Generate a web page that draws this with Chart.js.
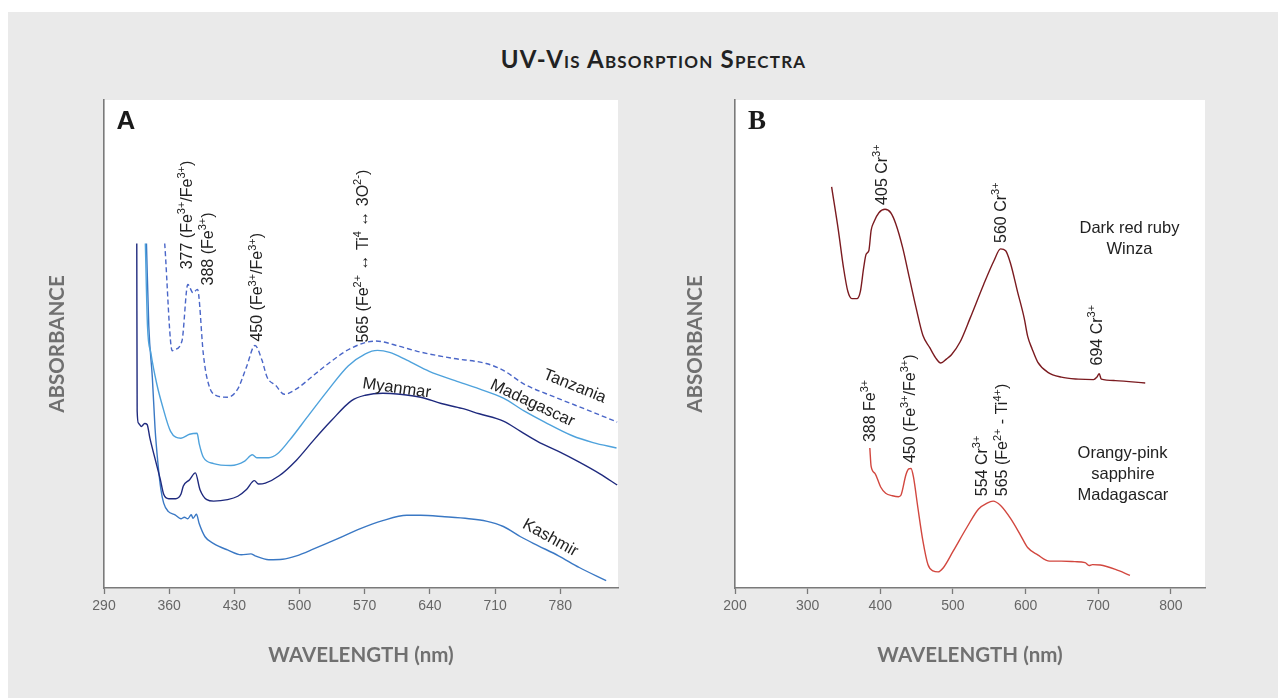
<!DOCTYPE html>
<html><head><meta charset="utf-8">
<script src="https://cdn.jsdelivr.net/npm/chart.js@4.4.1/dist/chart.umd.min.js"></script>
<style>
html,body{margin:0;padding:0;background:#fff;width:1278px;height:698px;overflow:hidden;position:relative}
#panel{position:absolute;left:8px;top:12px;width:1270px;height:686px;background:#eaeaea}
#title{position:absolute;left:0;width:1307px;top:44px;text-align:center;font:bold 24px Lato, sans-serif;font-variant:small-caps;letter-spacing:1.2px;color:#222}
.wrap{position:absolute;top:0;height:698px}
</style></head>
<body>
<div id="panel"></div>
<div id="title">UV-Vis Absorption Spectra</div>
<div class="wrap" style="left:0;width:640px"><canvas id="ca"></canvas></div>
<div class="wrap" style="left:640px;width:638px"><canvas id="cb"></canvas></div>
<script>
// ---------- DATA: panel A ----------
const ticksA = [290, 360, 430, 500, 570, 640, 710, 780];
const tanzaniaNm = [355.2,363.3,365.2,373.7,380,385.6,390.4,396.7,400.4,407.8,422.6,433.7,443,452.2,459.6,465.2,474.4,483.7,496.7,515.2,533.7,555.9,581.9,607.8,626.3,663.3,700.4,718.9,741.1,774.4,811.5,841.1];
const tanzaniaAbs = [70.6,48.6,48.8,50.6,62.2,60.5,61.2,47.9,43.2,39.7,39.1,40.8,45.3,49.7,46.7,43.2,41.5,39.7,40.8,43.6,46.4,49.2,50.6,49.5,48.5,47.1,46,44.6,41.8,39.1,36.3,34];
const madagascarNm = [334.4,336.7,340.4,346.7,352.2,361.5,372.6,381.9,390,392.2,396.7,407.8,426.3,441.1,449.3,454.1,467,476.3,489.3,507.8,530,552.2,570.7,583.7,596.7,615.2,639.3,667,693,718.9,741.1,763.3,793,815.2,840.4];
const madagascarAbs = [70.6,53.7,48.1,41.8,37.7,32.1,30.7,31.5,31.7,29.6,26.8,25.5,25.1,26,27.3,26.7,26.7,27.5,30.3,34.9,40.4,45.5,48,48.7,48.3,46.7,44.4,42.5,40.8,38.9,36.3,34,31.2,29.8,28.7];
const myanmarNm = [325.2,325.6,327,330,333.7,336.3,339.3,344.8,350.4,354.1,359.6,367,372.6,375.2,381.9,388.1,393,400.4,407.8,422.6,433.7,443,451.5,455.9,463.3,478.1,496.7,515.2,533.7,555.9,570.7,589.3,607.8,630,652.2,674.4,693,718.9,737.4,755.9,778.1,800.4,822.6,841.1];
const myanmarAbs = [70.6,36.3,33.8,33.1,33.7,33.5,30.7,26.5,22.3,19.2,18.3,18.3,19.2,20.9,22.2,23.6,20.2,18.1,17.8,18.1,18.8,20.2,22,21.3,21.5,23,26.2,30.3,34.2,38.4,39.5,39.9,39.7,39.1,37.8,36.8,35.7,34.2,32.1,30,28,25.8,23.4,21.1];
const kashmirNm = [335.6,338.1,341.9,344.8,347.8,351.1,354.1,358.9,366.3,372.6,376.3,380,383.7,385.6,389.3,392.2,398.5,407.8,422.6,437.4,447.8,452.2,467,481.9,496.7,515.2,541.1,563.3,589.3,615.2,630,655.9,681.9,700.4,718.9,737.4,755.9,778.1,800.4,829.3];
const kashmirAbs = [70.6,53.7,43.2,32.8,25.8,20.2,17.4,15.7,15,14.2,14.5,14.2,15,14.3,15.1,13.2,10.5,9.1,7.8,6.8,7,6.6,5.8,5.9,6.6,8,10.1,12,13.8,14.9,14.9,14.6,14.2,13.7,12.6,10.5,8.7,6.6,4.2,1.5];

// ---------- DATA: panel B ----------
const ticksB = [200, 300, 400, 500, 600, 700, 800];
const rubyNm = [333,342.3,349.3,355.3,360.9,367.9,372.6,377.2,380.5,384.2,387.4,391.2,398.1,406.5,414.4,421.4,430.7,440,449.3,458.6,467.9,476,483.3,491,498,509.8,523.7,542.3,556.3,565.6,572.6,579.5,588.8,598.1,603,609,616.7,630.7,649.3,672.6,693.5,698.1,701.4,704.2,723.7,764.7];
const rubyAbs = [82.2,73.3,65.7,60.8,59.3,59.3,60.8,65.7,68.4,69.1,73.3,75,76.9,77.6,76.9,74.6,69.8,63.6,57.4,51.8,49.3,47.2,46.1,46.9,47.8,50.4,55.3,62.2,67,69.5,69.1,66.4,60.8,55.3,51.5,49,46.3,44.2,43.2,42.8,42.7,43.2,43.9,42.8,42.5,42];
const sapphireNm = [385.6,387.4,392.6,400.5,407.4,416.7,425.1,428.4,435.3,439.1,442.3,445.6,451.6,458.6,465.6,472.6,479.5,486.5,500.5,519.1,535.3,547,555.3,565.6,579.5,593.5,602.8,616.7,633,649.3,667.9,681.9,687.4,692.1,702.8,723.7,743.7];
const sapphireAbs = [28.7,24.9,23.5,20.7,19.4,18.9,18.7,19,23.2,24.4,24.5,22.8,16.6,9.7,4.8,3.5,3.3,4.1,7.6,12.4,16.2,17.4,17.8,16.9,14.2,10.7,8.3,6.8,5.5,5.5,5.4,5.2,4.6,4.8,4.7,3.8,2.6];

// ---------- text annotations ----------
const peakLabelsA = ['377 (Fe^{3+}/Fe^{3+})', '388 (Fe^{3+})', '450 (Fe^{3+}/Fe^{3+})', '565 (Fe^{2+} \u2194 Ti^{4} \u2194 3O^{2-})'];
const peakPosA = [[378.5,65.3],[401,62],[454,50.5],[567,50.3]];
const curveLabelsA = ['Tanzania','Madagascar','Myanmar','Kashmir'];
const curvePosA = [[796,41.6,22],[750.7,38.1,25],[604.5,41.2,8],[770,10.5,29]];
const peakLabelsB = ['405 Cr^{3+}','560 Cr^{3+}','694 Cr^{3+}','388 Fe^{3+}','450 (Fe^{3+}/Fe^{3+})','554 Cr^{3+}','565 (Fe^{2+} - Ti^{4+})'];
const peakPosB = [[401,78.5],[564.5,70.7],[697,45.6],[385,29.9],[440,25.6],[538.5,18.8],[567,18.8]];
const sampleLabelsB = ['Dark red ruby','Winza','Orangy-pink','sapphire','Madagascar'];
const samplePosB = [[743,74],[743,69.7],[733.5,27.9],[734,23.6],[734,19.3]];

const SANS = '"Liberation Sans", Arial, Helvetica, sans-serif';
function parseRich(s){
  const segs=[]; const re=/\^\{([^}]*)\}/g; let last=0,m;
  while((m=re.exec(s))){ if(m.index>last) segs.push({t:s.slice(last,m.index),sup:false}); segs.push({t:m[1],sup:true}); last=re.lastIndex; }
  if(last<s.length) segs.push({t:s.slice(last),sup:false});
  return segs;
}
function drawRich(ctx, s, x, y, rot, align, size){
  const segs=parseRich(s);
  const main=size+'px '+SANS, sup=Math.round(size*0.66)+'px '+SANS;
  let w=0; segs.forEach(g=>{ctx.font=g.sup?sup:main; g.w=ctx.measureText(g.t).width; w+=g.w;});
  ctx.save(); ctx.translate(x,y); ctx.rotate(rot*Math.PI/180);
  ctx.fillStyle='#222'; ctx.textAlign='left'; ctx.textBaseline='alphabetic';
  let cx = align==='center' ? -w/2 : 0;
  segs.forEach(g=>{ctx.font=g.sup?sup:main; ctx.fillText(g.t,cx,g.sup? size*0.36-size*0.42 : size*0.36); cx+=g.w;});
  ctx.restore();
}

function makeChart(id, o){
  const deco = {
    id:'deco'+id,
    beforeDraw(chart){
      const a=chart.chartArea, c=chart.ctx;
      c.save(); c.fillStyle='#fff'; c.fillRect(a.left,a.top,a.right-a.left,a.bottom-a.top); c.restore();
    },
    afterDraw(chart){
      const c=chart.ctx, xs=chart.scales.x, ys=chart.scales.y;
      c.save();
      c.fillStyle='#1a1a1a'; c.font=o.letterFont; c.textAlign='center'; c.textBaseline='middle';
      c.fillText(o.letter, chart.chartArea.left+22, chart.chartArea.top+22);
      c.restore();
      o.peakLabels.forEach((t,i)=>drawRich(c,t,xs.getPixelForValue(o.peakPos[i][0]),ys.getPixelForValue(o.peakPos[i][1]),-90,'start',16));
      o.curveLabels.forEach((t,i)=>{const p=o.curvePos[i]; drawRich(c,t,xs.getPixelForValue(p[0]),ys.getPixelForValue(p[1]),p[2]||0,'center',16.5);});
    }
  };
  return new Chart(document.getElementById(id), {
    type:'line',
    data:{datasets:o.series.map(s=>({label:s.name,data:s.x.map((v,i)=>({x:v,y:s.y[i]})),borderColor:s.color,borderWidth:1.4,borderDash:s.dash||[],pointRadius:0,cubicInterpolationMode:'monotone',fill:false}))},
    options:{
      responsive:true, maintainAspectRatio:false, animation:false,
      layout:{padding:{top:100,right:o.padRight,bottom:0,left:0}},
      plugins:{legend:{display:false},tooltip:{enabled:false},title:{display:false}},
      scales:{
        x:{type:'linear',min:o.xmin,max:o.xmax,
          afterBuildTicks:s=>{s.ticks=o.ticks.map(v=>({value:v}));},
          afterFit:s=>{s.height=110;},
          ticks:{color:'#666',font:{family:SANS,size:14},padding:4,maxRotation:0,autoSkip:false},
          grid:{drawOnChartArea:false,drawTicks:true,tickLength:6,color:'#7a7a7a',tickWidth:1.3},
          border:{color:'#7a7a7a',width:1.6},
          title:{display:true,text:'WAVELENGTH (nm)',color:'#707070',font:{family:'Lato, sans-serif',weight:'bold',size:20.5},padding:{top:0,bottom:30.7}}},
        y:{min:0,max:100,
          afterFit:s=>{s.width=o.left;},
          ticks:{display:false},
          grid:{drawOnChartArea:false,drawTicks:false},
          border:{color:'#7a7a7a',width:1.6},
          title:{display:true,text:'ABSORBANCE',color:'#707070',font:{family:'Lato, sans-serif',weight:'bold',size:20.5},padding:{top:o.yTitlePad,bottom:0}}}
      }
    },
    plugins:[deco]
  });
}

makeChart('ca',{
  series:[
    {name:'Tanzania',x:tanzaniaNm,y:tanzaniaAbs,color:'#4a66c8',dash:[5,3]},
    {name:'Madagascar',x:madagascarNm,y:madagascarAbs,color:'#4ea2dc'},
    {name:'Myanmar',x:myanmarNm,y:myanmarAbs,color:'#1f2a7e'},
    {name:'Kashmir',x:kashmirNm,y:kashmirAbs,color:'#3a78c4'}
  ],
  ticks:ticksA, xmin:290, xmax:842, left:104, padRight:22, yTitlePad:44.7,
  letter:'A', letterFont:'bold 26px "Liberation Sans", Arial, sans-serif',
  peakLabels:peakLabelsA, peakPos:peakPosA, curveLabels:curveLabelsA, curvePos:curvePosA
});
makeChart('cb',{
  series:[
    {name:'Dark red ruby, Winza',x:rubyNm,y:rubyAbs,color:'#7b1b20'},
    {name:'Orangy-pink sapphire, Madagascar',x:sapphireNm,y:sapphireAbs,color:'#d2473f'}
  ],
  ticks:ticksB, xmin:200, xmax:847, left:95, padRight:73, yTitlePad:42.7,
  letter:'B', letterFont:'bold 27px "Liberation Serif", "Times New Roman", serif',
  peakLabels:peakLabelsB, peakPos:peakPosB, curveLabels:sampleLabelsB, curvePos:samplePosB.map(p=>[p[0],p[1],0])
});
</script>
</body></html>
